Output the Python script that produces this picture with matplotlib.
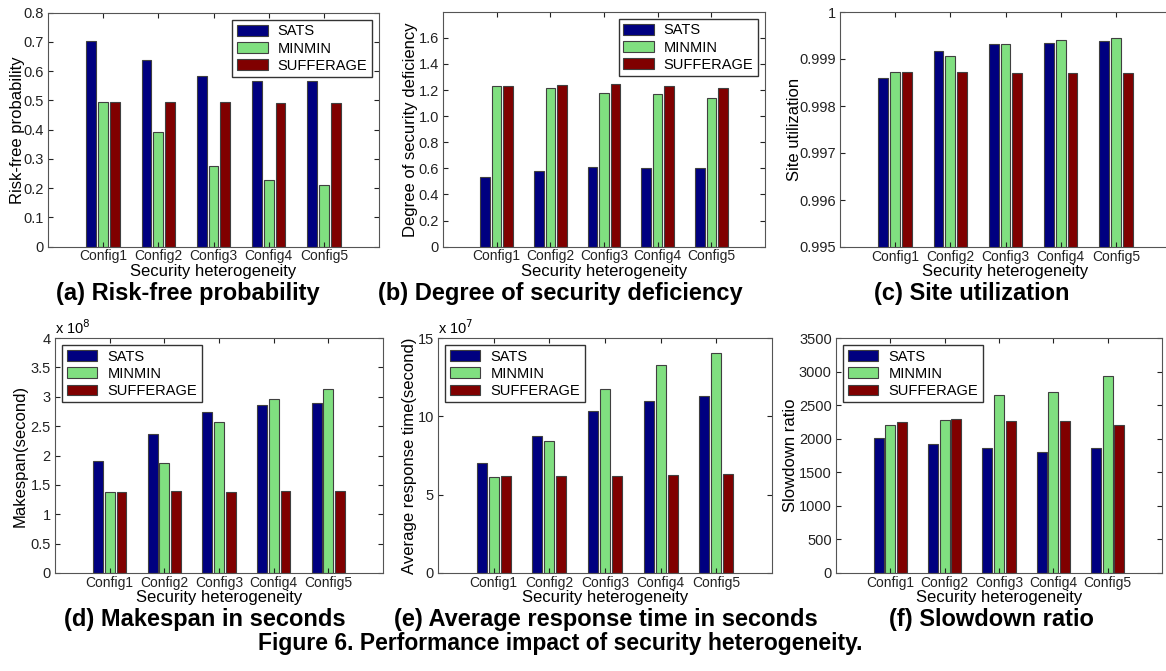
import numpy as np
import matplotlib
matplotlib.use("Agg")
import matplotlib.pyplot as plt

plt.rcParams['font.family'] = ['Liberation Sans', 'DejaVu Sans']

# Datos
configs = ["Config1", "Config2", "Config3", "Config4", "Config5"]
algos = ["SATS", "MINMIN", "SUFFERAGE"]
colors = ["#000080", "#80DF80", "#800000"]

risk_free = {
    "SATS": [0.703, 0.640, 0.583, 0.566, 0.566],
    "MINMIN": [0.494, 0.392, 0.275, 0.228, 0.210],
    "SUFFERAGE": [0.494, 0.496, 0.494, 0.492, 0.492],
}
sec_deficiency = {
    "SATS": [0.535, 0.578, 0.612, 0.604, 0.604],
    "MINMIN": [1.228, 1.218, 1.180, 1.170, 1.137],
    "SUFFERAGE": [1.228, 1.240, 1.245, 1.228, 1.214],
}
site_util = {
    "SATS": [0.998590, 0.999170, 0.999310, 0.999340, 0.999380],
    "MINMIN": [0.998730, 0.999060, 0.999310, 0.999400, 0.999440],
    "SUFFERAGE": [0.998730, 0.998715, 0.998700, 0.998700, 0.998710],
}
makespan = {
    "SATS": [1.91e8, 2.36e8, 2.74e8, 2.86e8, 2.89e8],
    "MINMIN": [1.38e8, 1.88e8, 2.57e8, 2.96e8, 3.13e8],
    "SUFFERAGE": [1.38e8, 1.39e8, 1.38e8, 1.39e8, 1.40e8],
}
resp_time = {
    "SATS": [7.02e7, 8.72e7, 10.36e7, 10.96e7, 11.32e7],
    "MINMIN": [6.11e7, 8.40e7, 11.74e7, 13.30e7, 14.04e7],
    "SUFFERAGE": [6.17e7, 6.21e7, 6.21e7, 6.28e7, 6.32e7],
}
slowdown = {
    "SATS": [2010, 1920, 1862, 1802, 1862],
    "MINMIN": [2209, 2284, 2656, 2691, 2929],
    "SUFFERAGE": [2244, 2299, 2259, 2259, 2209],
}

W, H = 1166, 671
fig = plt.figure(figsize=(W / 100, H / 100), dpi=100)


def px_axes(l, t, w, h):
    return fig.add_axes([l / W, 1 - (t + h) / H, w / W, h / H])


panels = [
    # datos, caja en px, ylim, yticks, etiquetas, ylabel, x ylabel, leyenda, exponente
    (risk_free, (48, 12.7, 331, 234), (0, 0.8), np.arange(0, 0.81, 0.1),
     ["0"] + ["%.1f" % v for v in np.arange(0.1, 0.81, 0.1)],
     "Risk-free probability", -0.069, "upper right", None),
    (sec_deficiency, (443, 11.7, 322, 235), (0, 1.8), np.arange(0, 1.61, 0.2),
     ["0"] + ["%.1f" % v for v in np.arange(0.2, 1.61, 0.2)],
     "Degree of security deficiency", -0.078, "upper right", None),
    (site_util, (840, 12, 331, 235), (0.995, 1.0), np.arange(0.995, 1.00001, 0.001),
     ["0.995", "0.996", "0.997", "0.998", "0.999", "1"],
     "Site utilization", -0.115, None, None),
    (makespan, (55, 338, 328, 235), (0, 4e8), np.arange(0, 4.01, 0.5) * 1e8,
     ["0", "0.5", "1", "1.5", "2", "2.5", "3", "3.5", "4"],
     "Makespan(second)", -0.082, "upper left", "8"),
    (resp_time, (438, 338, 334, 235), (0, 15e7), np.arange(0, 16, 5) * 1e7,
     ["0", "5", "10", "15"],
     "Average response time(second)", -0.063, "upper left", "7"),
    (slowdown, (836, 338, 326, 235), (0, 3500), np.arange(0, 3501, 500),
     [str(v) for v in range(0, 3501, 500)],
     "Slowdown ratio", -0.117, "upper left", None),
]

x = np.arange(1, 6)
bw = 0.18
offs = [-0.215, 0, 0.215]

for data, box, ylim, yt, ytl, ylab, ylx, legloc, expo in panels:
    ax = px_axes(*box)
    for i, a in enumerate(algos):
        ax.bar(x + offs[i], data[a], width=bw, color=colors[i],
               edgecolor="#404040", linewidth=0.8, label=a)
    ax.set_xlim(0, 6)
    ax.set_ylim(*ylim)
    ax.set_yticks(yt)
    ax.set_yticklabels(ytl)
    ax.set_xticks(x)
    ax.set_xticklabels(configs)
    ax.tick_params(direction="in", top=True, right=True, length=3.5,
                   width=0.8, labelsize=10.5, pad=3, colors="#222222")
    ax.tick_params(axis="x", labelsize=10, pad=2)
    for s in ax.spines.values():
        s.set_linewidth(0.8)
        s.set_color("#555555")
    ax.set_ylabel(ylab, fontsize=12)
    ax.yaxis.set_label_coords(ylx, 0.5)
    ax.set_xlabel("Security heterogeneity", fontsize=12, labelpad=0)
    ax.xaxis.set_label_coords(0.5, -0.074)
    if legloc:
        ax.legend(loc=legloc, fontsize=10.5, frameon=True, fancybox=False,
                  edgecolor="#333333", handlelength=2.1, handleheight=0.75,
                  handletextpad=0.7, labelspacing=0.22, borderaxespad=0.5,
                  borderpad=0.3, framealpha=1)
    if expo:
        ax.text(0.0, 1.005, r"x 10$^{%s}$" % expo, transform=ax.transAxes,
                fontsize=10.5, ha="left", va="bottom")

captions_top = [("(a) Risk-free probability", 188),
                ("(b) Degree of security deficiency", 560),
                ("(c) Site utilization", 972)]
captions_bot = [("(d) Makespan in seconds", 205),
                ("(e) Average response time in seconds", 606),
                ("(f) Slowdown ratio", 991)]
for txt, cx in captions_top:
    fig.text(cx / W, 1 - 300 / H, txt, fontsize=17, fontweight="bold",
             ha="center", va="baseline")
for txt, cx in captions_bot:
    fig.text(cx / W, 1 - 626 / H, txt, fontsize=17, fontweight="bold",
             ha="center", va="baseline")
fig.text(560 / W, 1 - 650 / H,
         "Figure 6. Performance impact of security heterogeneity.",
         fontsize=16.5, fontweight="bold", ha="center", va="baseline")

fig.savefig("out.png", dpi=100)
